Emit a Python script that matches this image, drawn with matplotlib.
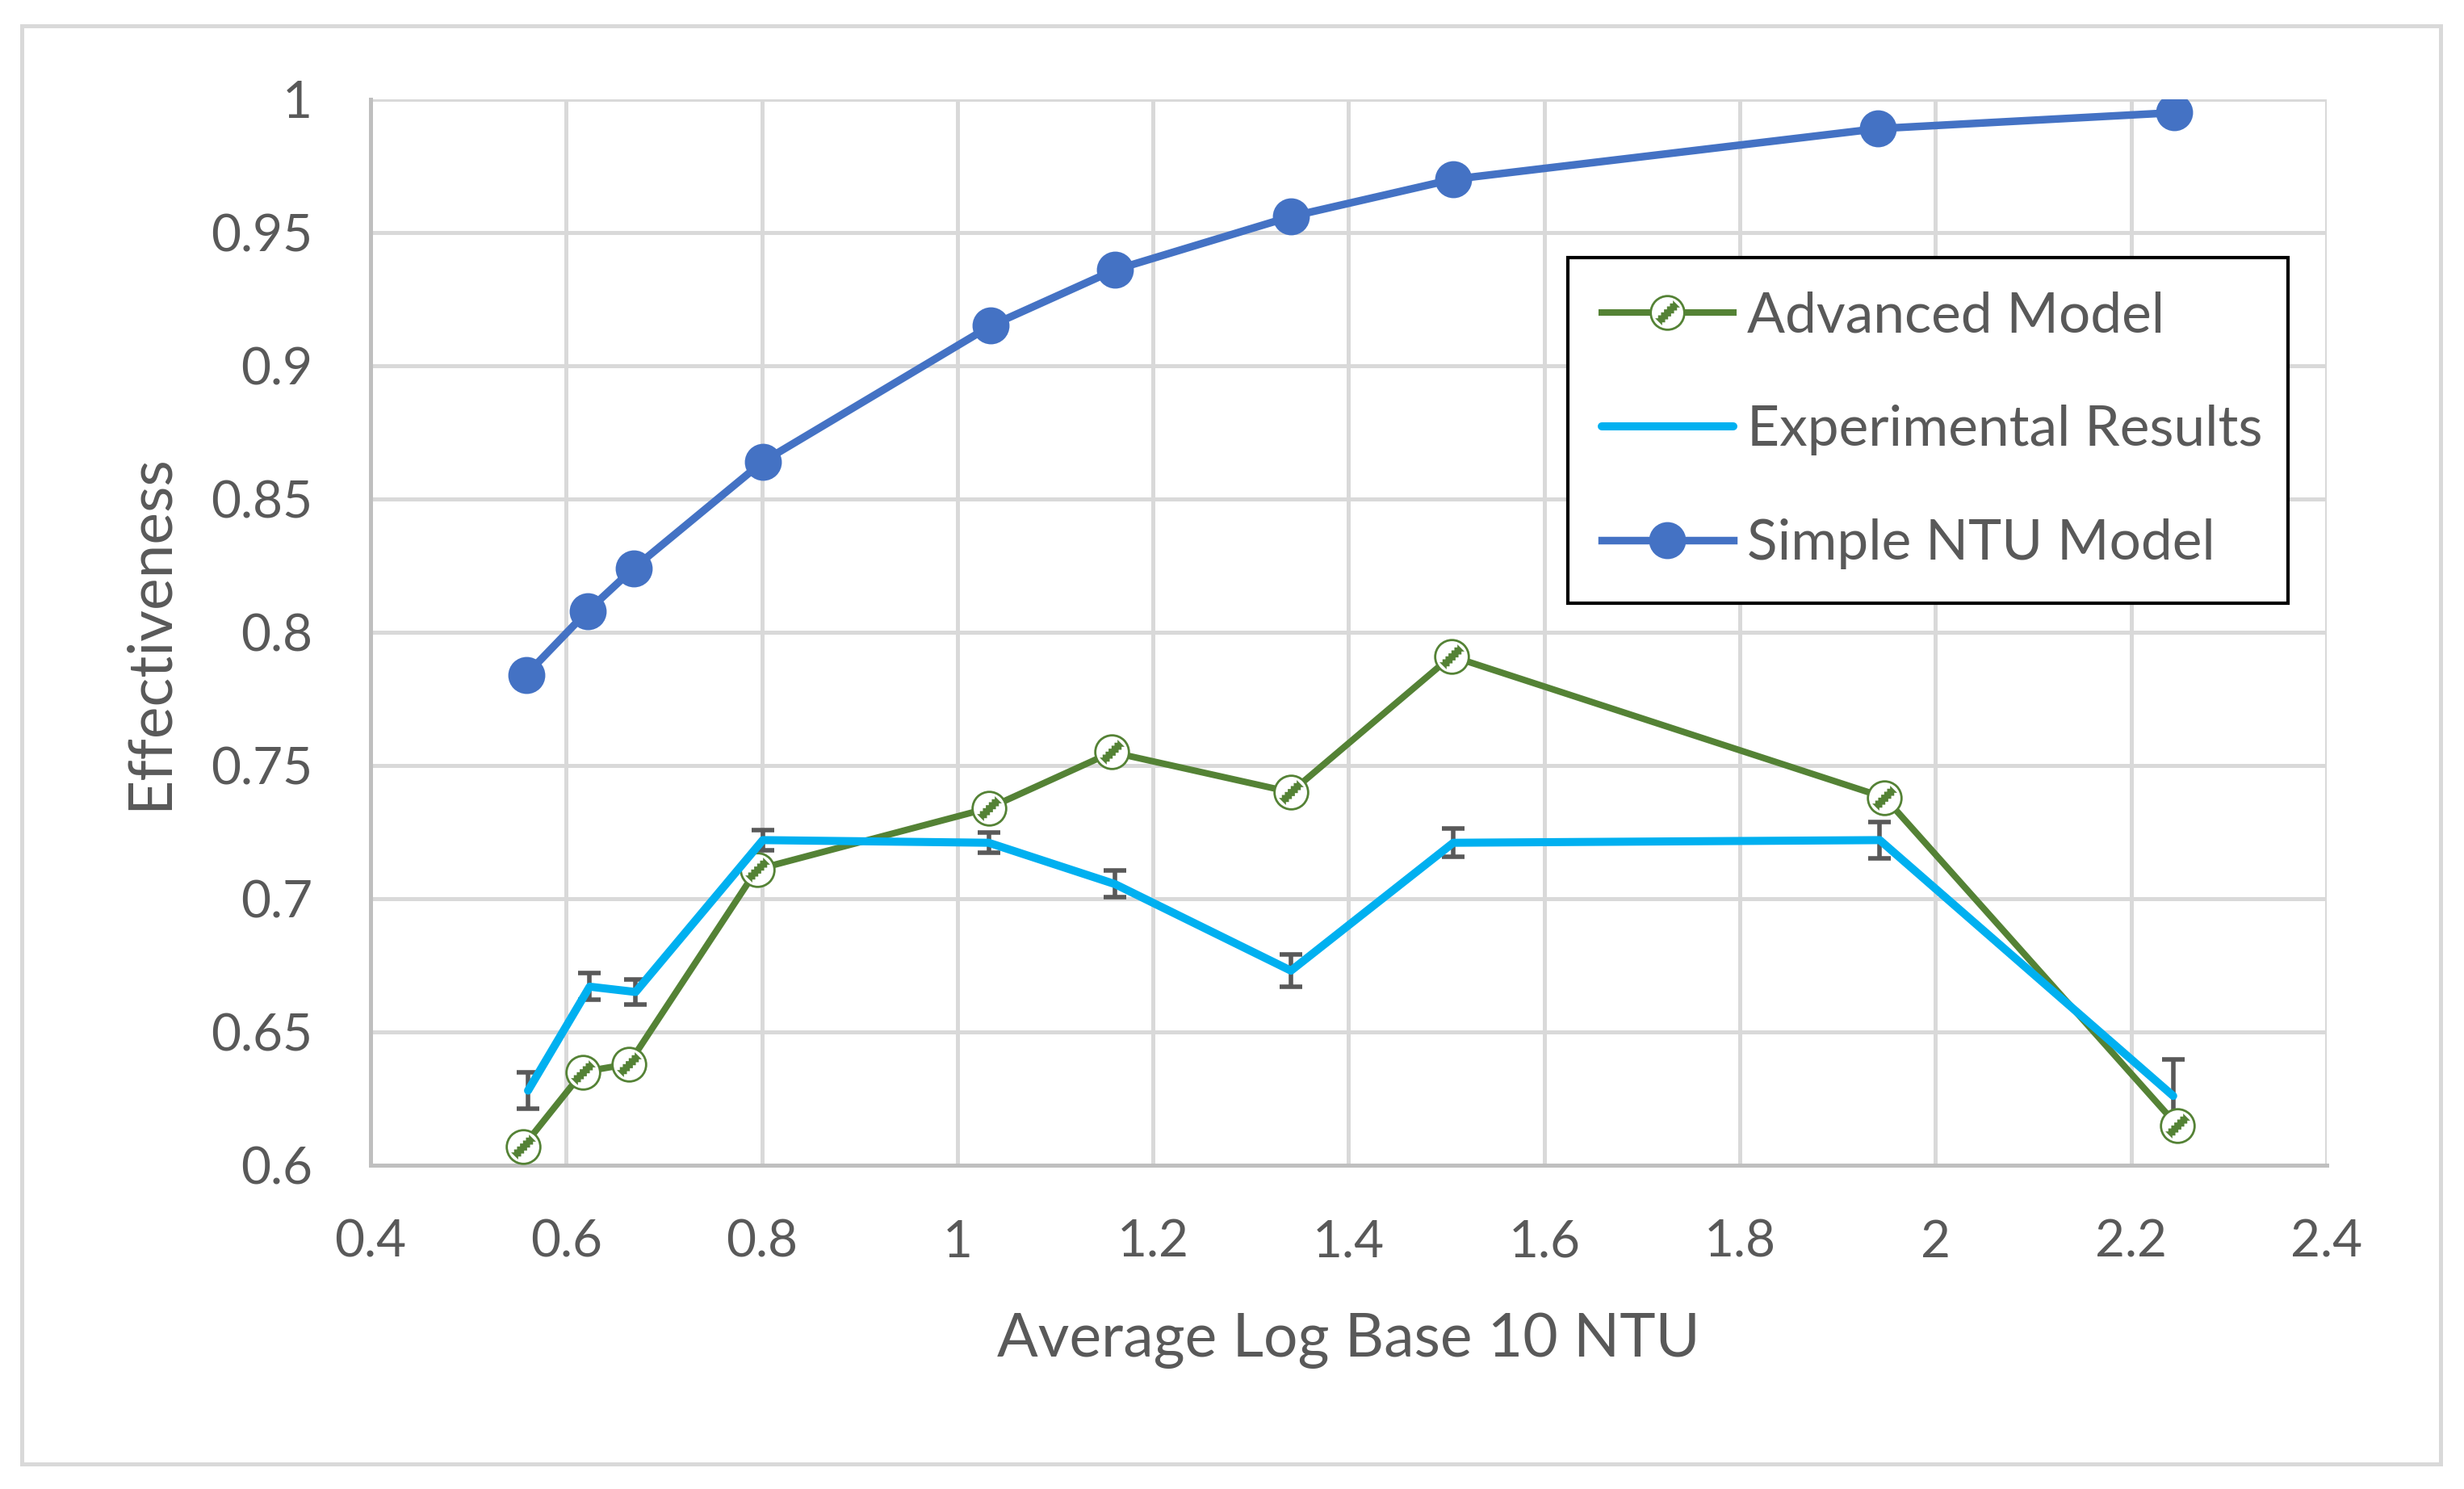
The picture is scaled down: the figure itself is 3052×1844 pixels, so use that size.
import matplotlib
matplotlib.use('Agg')
from matplotlib import pyplot as plt
from matplotlib.patches import Rectangle
from matplotlib.path import Path
from matplotlib.ticker import FuncFormatter

plt.rcParams['font.family'] = ['Lato', 'DejaVu Sans']

# data
ntu_x = [0.559, 0.622, 0.669, 0.801, 1.034, 1.161, 1.341, 1.507, 1.941, 2.244]
ntu_y = [0.784, 0.808, 0.824, 0.864, 0.915, 0.936, 0.956, 0.970, 0.989, 0.995]

adv_x = [0.556, 0.617, 0.664, 0.795, 1.032, 1.158, 1.341, 1.505, 1.948, 2.247]
adv_y = [0.607, 0.635, 0.638, 0.711, 0.734, 0.755, 0.740, 0.791, 0.738, 0.615]

exp_x = [0.561, 0.624, 0.671, 0.801, 1.032, 1.161, 1.341, 1.507, 1.943, 2.243]
exp_y = [0.628, 0.667, 0.665, 0.722, 0.721, 0.7055, 0.673, 0.721, 0.722, 0.626]
exp_err = [0.0067, 0.005, 0.0047, 0.0039, 0.0038, 0.005, 0.006, 0.0053, 0.0067, 0.0137]

xticks = [0.4, 0.6, 0.8, 1.0, 1.2, 1.4, 1.6, 1.8, 2.0, 2.2, 2.4]
yticks = [0.6, 0.65, 0.7, 0.75, 0.8, 0.85, 0.9, 0.95, 1.0]

green = '#548235'
light_blue = '#00B0F0'
blue = '#4472C4'
text_grey = '#595959'

# stair-stepped diagonal band, like the Excel pattern fill inside the markers
a, w, n = 0.74, 0.42, 6
step = (2 * a - w) / n
upper = []
for i in range(n):
    x = -a + i * step
    upper += [(x, x + w), (x + step, x + w)]
upper.append((a - w, a))
lower = [(-px, -py) for px, py in upper]
band_verts = upper + lower + [upper[0]]
band = Path(band_verts, closed=True)

marker_d = 15
fig = plt.figure(figsize=(15.26, 9.22), dpi=200)
fig.add_artist(Rectangle((27 / 3052, 1 - 1813 / 1844), (3023 - 27) / 3052, (1813 - 32) / 1844,
                         transform=fig.transFigure, fill=False, edgecolor='#D9D9D9', lw=1.8))
ax = fig.add_axes([459 / 3052, 1 - 1443 / 1844, (2882 - 459) / 3052, (1443 - 123) / 1844])

ax.errorbar(exp_x, exp_y, yerr=exp_err, fmt='none', ecolor=text_grey,
            elinewidth=2.0, capsize=5, capthick=2.0, zorder=2)
adv_line, = ax.plot(adv_x, adv_y, color=green, lw=2.9, marker='o', markersize=marker_d,
                    markerfacecolor='white', markeredgecolor=green, markeredgewidth=1.0, zorder=3)
adv_band, = ax.plot(adv_x, adv_y, linestyle='none', marker=band, markersize=marker_d * a,
                    markerfacecolor=green, markeredgewidth=0, zorder=4)
exp_line, = ax.plot(exp_x, exp_y, color=light_blue, lw=3.6, solid_capstyle='round', zorder=5)
ntu_line, = ax.plot(ntu_x, ntu_y, color=blue, lw=3.4, marker='o', markersize=15.5, zorder=6)

ax.set_xlim(0.4, 2.4)
ax.set_ylim(0.6, 1.0)
ax.set_xticks(xticks)
ax.set_yticks(yticks)
fmt = FuncFormatter(lambda v, p: '{:g}'.format(round(v, 2)))
ax.xaxis.set_major_formatter(fmt)
ax.yaxis.set_major_formatter(fmt)
ax.tick_params(axis='x', length=0, pad=24, labelsize=23, labelcolor=text_grey)
ax.tick_params(axis='y', length=0, pad=26, labelsize=23, labelcolor=text_grey)
ax.grid(True, color='#D9D9D9', lw=1.8, zorder=0)
ax.set_axisbelow(True)
for side in ['top', 'right']:
    ax.spines[side].set_visible(False)
for side in ['left', 'bottom']:
    ax.spines[side].set_color('#BFBFBF')
    ax.spines[side].set_linewidth(1.8)

fig.text(1670 / 3052, 1 - 1660 / 1844, 'Average Log Base 10 NTU', ha='center', va='center',
         fontsize=27, color=text_grey)
fig.text(185 / 3052, 1 - 783 / 1844, 'Effectiveness', ha='center', va='center',
         rotation=90, fontsize=27, color=text_grey)

leg = ax.legend([(adv_line, adv_band), exp_line, ntu_line],
                ['Advanced Model', 'Experimental Results', 'Simple NTU Model'],
                loc='upper left', bbox_to_anchor=(0.612, 0.53, 0.368, 0.3215), mode='expand',
                borderaxespad=0, fontsize=25, labelcolor=text_grey, frameon=True, fancybox=False,
                framealpha=1, edgecolor='black', borderpad=0.6, labelspacing=1.12,
                handlelength=2.35, handletextpad=0.25)
leg.get_frame().set_linewidth(1.5)

plt.savefig('out.png', dpi=200)
